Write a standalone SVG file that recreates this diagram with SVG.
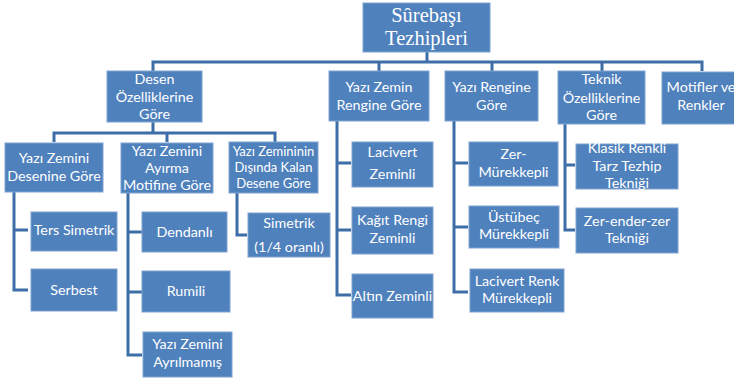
<svg xmlns="http://www.w3.org/2000/svg" width="734" height="378" viewBox="0 0 734 378">
<style>
.b{fill:#4f81bd;stroke:#7ea3d0;stroke-width:1}
.t{fill:#fff;font-family:Lato,"Open Sans","Liberation Sans",sans-serif;font-size:14.3px;text-anchor:middle}
.s{font-size:13px}
.r{fill:#fff;font-family:"Liberation Serif","DejaVu Serif",serif;font-size:20.5px;text-anchor:middle}
.c{fill:none;stroke:#3d6ea8;stroke-width:3;stroke-linejoin:miter}
</style>
<rect width="734" height="378" fill="#fff"/>
<g id="connectors" class="c">
<path d="M427 52V62M153 71V62H702V71M379 62V71M492 62V71M602 62V71"/>
<path d="M153 122V133M54 142V133H275V142M167 133V142"/>
<path d="M14 192V290H28M14 230H28"/>
<path d="M128 193V355H142M128 232H142M128 292H142"/>
<path d="M237 193V235H247"/>
<path d="M337 121V295H351M337 163H351M337 230H351"/>
<path d="M454 121V292H468M454 163H468M454 227H468"/>
<path d="M565 124V230H575M565 165H575"/>
</g>
<g id="root"><rect class="b" x="363" y="3" width="127" height="49"/><text class="r" x="426.5" y="22">Sûrebaşı</text><text class="r" x="426.5" y="45">Tezhipleri</text></g>
<g id="desen"><rect class="b" x="107" y="71" width="95" height="51"/><text class="t" x="154.5" y="84">Desen</text><text class="t" x="154.5" y="102">Özelliklerine</text><text class="t" x="154.5" y="119">Göre</text></g>
<g id="zeminrengi"><rect class="b" x="329" y="71" width="100" height="50"/><text class="t" x="379" y="92">Yazı Zemin</text><text class="t" x="379" y="110">Rengine Göre</text></g>
<g id="yazirengi"><rect class="b" x="445" y="71" width="93" height="50"/><text class="t" x="491.5" y="92">Yazı Rengine</text><text class="t" x="491.5" y="110">Göre</text></g>
<g id="teknik"><rect class="b" x="558" y="71" width="87" height="53"/><text class="t" x="601.5" y="84">Teknik</text><text class="t" x="601.5" y="103">Özelliklerine</text><text class="t" x="601.5" y="120">Göre</text></g>
<g id="motifler"><rect class="b" x="662" y="72" width="76" height="52"/><text class="t" x="701" y="92">Motifler ve</text><text class="t" x="701" y="110">Renkler</text></g>
<g id="desenine"><rect class="b" x="5" y="143" width="98" height="49"/><text class="t" x="54" y="163">Yazı Zemini</text><text class="t" x="54" y="181">Desenine Göre</text></g>
<g id="ayirma"><rect class="b" x="121" y="143" width="92" height="50"/><text class="t" x="167" y="156">Yazı Zemini</text><text class="t" x="167" y="173">Ayırma</text><text class="t" x="167" y="190">Motifine Göre</text></g>
<g id="disinda"><rect class="b" x="229" y="142" width="89" height="51"/><text class="t s" x="273.5" y="156">Yazı Zemininin</text><text class="t s" x="273.5" y="172">Dışında Kalan</text><text class="t s" x="273.5" y="188">Desene Göre</text></g>
<g id="terssimetrik"><rect class="b" x="31" y="212" width="86" height="39"/><text class="t" x="74" y="235">Ters Simetrik</text></g>
<g id="serbest"><rect class="b" x="31" y="269" width="86" height="42"/><text class="t" x="74" y="295">Serbest</text></g>
<g id="dendanli"><rect class="b" x="142" y="212" width="85" height="40"/><text class="t" x="184.5" y="237">Dendanlı</text></g>
<g id="rumili"><rect class="b" x="142" y="271" width="88" height="41"/><text class="t" x="186" y="296">Rumili</text></g>
<g id="ayrilmamis"><rect class="b" x="143" y="332" width="89" height="45"/><text class="t" x="187.5" y="349">Yazı Zemini</text><text class="t" x="187.5" y="367">Ayrılmamış</text></g>
<g id="simetrik"><rect class="b" x="248" y="213" width="82" height="44"/><text class="t" x="289" y="228">Simetrik</text><text class="t" x="289" y="252">(1/4 oranlı)</text></g>
<g id="lacivertzeminli"><rect class="b" x="352" y="142" width="81" height="45"/><text class="t" x="392.5" y="157">Lacivert</text><text class="t" x="392.5" y="179">Zeminli</text></g>
<g id="kagit"><rect class="b" x="352" y="207" width="81" height="47"/><text class="t" x="392.5" y="225">Kağıt Rengi</text><text class="t" x="392.5" y="243">Zeminli</text></g>
<g id="altin"><rect class="b" x="352" y="274" width="81" height="44"/><text class="t" x="392.5" y="301">Altın Zeminli</text></g>
<g id="zermurekkepli"><rect class="b" x="469" y="142" width="89" height="44"/><text class="t" x="513.5" y="159">Zer-</text><text class="t" x="513.5" y="177">Mürekkepli</text></g>
<g id="ustubec"><rect class="b" x="469" y="206" width="90" height="42"/><text class="t" x="514" y="222">Üstübeç</text><text class="t" x="514" y="239">Mürekkepli</text></g>
<g id="lacivertrenk"><rect class="b" x="470" y="269" width="94" height="43"/><text class="t" x="517" y="286">Lacivert Renk</text><text class="t" x="517" y="303">Mürekkepli</text></g>
<g id="klasik"><rect class="b" x="576" y="144" width="102" height="45"/><text class="t" x="627" y="153">Klasik Renkli</text><text class="t" x="627" y="171">Tarz Tezhip</text><text class="t" x="627" y="188">Tekniği</text></g>
<g id="zerenderzer"><rect class="b" x="576" y="208" width="102" height="45"/><text class="t" x="627" y="226">Zer-ender-zer</text><text class="t" x="627" y="243">Tekniği</text></g>
</svg>
